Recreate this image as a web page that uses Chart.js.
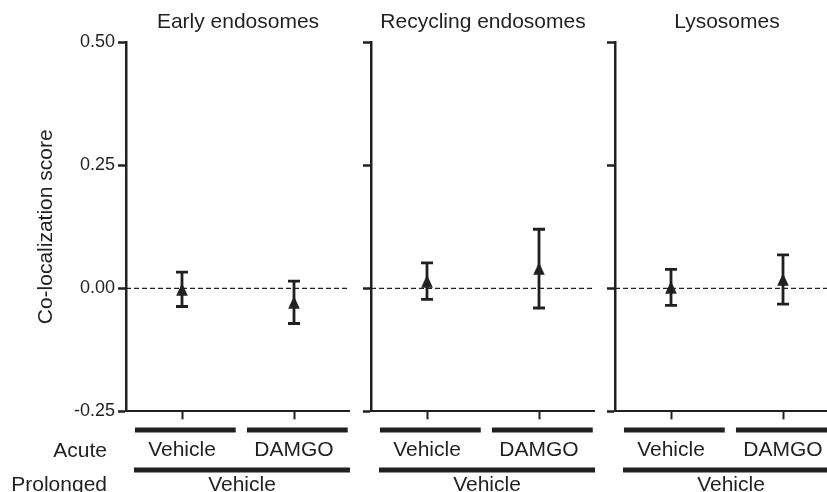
<!DOCTYPE html>
<html>
<head>
<meta charset="utf-8">
<script src="https://cdn.jsdelivr.net/npm/chart.js@4.4.1/dist/chart.umd.min.js"></script>
<style>
  html, body { margin: 0; padding: 0; background: #ffffff; overflow: hidden; width: 827px; height: 492px; }
  .wrap { position: absolute; top: 0; height: 492px; }
  canvas { display: block; }
</style>
</head>
<body>
<div class="wrap" id="w1" style="left:0px;width:350px"><canvas id="c1"></canvas></div>
<div class="wrap" id="w2" style="left:351px;width:244px"><canvas id="c2"></canvas></div>
<div class="wrap" id="w3" style="left:595px;width:244px"><canvas id="c3"></canvas></div>
<script>
// ---------- data ----------
const categories = ['Vehicle', 'DAMGO'];
const panelTitles = ['Early endosomes', 'Recycling endosomes', 'Lysosomes'];
const earlyMean = [-0.002, -0.0285];
const earlyErr = [0.035, 0.043];
const recyclingMean = [0.0145, 0.040];
const recyclingErr = [0.037, 0.080];
const lysosomeMean = [0.002, 0.018];
const lysosomeErr = [0.0366, 0.050];
const yTicks = [-0.25, 0.00, 0.25, 0.50];
const rowLabels = ['Acute', 'Prolonged'];
const prolongedLabel = 'Vehicle';
const yTitle = 'Co-localization score';

// ---------- style ----------
const INK = '#231f20';
const FONT = "'Liberation Sans', Arial, Helvetica, sans-serif";

// triangle marker
function makeTriangle() {
  const c = document.createElement('canvas');
  c.width = 12; c.height = 13;
  const g = c.getContext('2d');
  g.fillStyle = INK;
  g.beginPath();
  g.moveTo(6, 0.3);
  g.lineTo(11.8, 12.7);
  g.lineTo(0.2, 12.7);
  g.closePath();
  g.fill();
  return c;
}
const triangle = makeTriangle();

const panelPlugin = {
  id: 'panelExtras',
  beforeDatasetsDraw(chart, args, opts) {
    const ctx = chart.ctx;
    const x = chart.scales.x, y = chart.scales.y;
    const a = chart.chartArea;
    ctx.save();
    // dashed zero line
    const y0 = y.getPixelForValue(0);
    ctx.strokeStyle = INK;
    ctx.lineWidth = 1.3;
    ctx.setLineDash([5, 3]);
    ctx.beginPath();
    ctx.moveTo(a.left, y0);
    ctx.lineTo(a.right - 2, y0);
    ctx.stroke();
    ctx.setLineDash([]);
    // error bars
    ctx.lineWidth = 2.8;
    opts.means.forEach((m, i) => {
      const cx = x.getPixelForValue(i);
      const top = y.getPixelForValue(m + opts.errs[i]);
      const bot = y.getPixelForValue(m - opts.errs[i]);
      ctx.beginPath();
      ctx.moveTo(cx, top); ctx.lineTo(cx, bot);
      ctx.moveTo(cx - 6, top); ctx.lineTo(cx + 6, top);
      ctx.moveTo(cx - 6, bot); ctx.lineTo(cx + 6, bot);
      ctx.stroke();
    });
    ctx.restore();
  },
  afterDraw(chart, args, opts) {
    const ctx = chart.ctx;
    const x = chart.scales.x;
    const a = chart.chartArea;
    const step = x.getPixelForValue(1) - x.getPixelForValue(0);
    ctx.save();
    ctx.fillStyle = INK;
    // acute bars
    categories.forEach((c, i) => {
      const cx = x.getPixelForValue(i);
      ctx.fillRect(cx - 0.42 * step, 427.5, 0.9 * step, 5);
    });
    // prolonged bar
    const pl = a.left + 8, pr = a.right;
    ctx.fillRect(pl, 467.5, pr - pl, 5);
    ctx.font = '21px ' + FONT;
    ctx.textAlign = 'center';
    ctx.textBaseline = 'middle';
    ctx.fillText(prolongedLabel, (pl + pr) / 2, 485);
    if (opts.rowLabels) {
      ctx.textAlign = 'right';
      ctx.fillText(rowLabels[0], 107, 451);
      ctx.fillText(rowLabels[1], 107, 485);
    }
    ctx.restore();
  }
};

function makeChart(id, title, means, errs, first) {
  return new Chart(document.getElementById(id), {
    type: 'line',
    data: {
      labels: categories,
      datasets: [{
        data: means,
        showLine: false,
        pointStyle: triangle,
        pointRadius: 7,
        pointHoverRadius: 7,
        borderColor: INK,
        backgroundColor: INK
      }]
    },
    plugins: [panelPlugin],
    options: {
      responsive: true,
      maintainAspectRatio: false,
      animation: false,
      events: [],
      layout: { padding: 0, autoPadding: false },
      plugins: {
        legend: { display: false },
        tooltip: { enabled: false },
        title: {
          display: true,
          text: title,
          fullSize: false,
          color: INK,
          font: { family: FONT, size: 21, weight: 'normal', lineHeight: 1.2 },
          padding: { top: 10, bottom: 7.1 }
        },
        panelExtras: { means: means, errs: errs, rowLabels: first }
      },
      scales: {
        x: {
          type: 'category',
          offset: true,
          grid: { display: true, offset: false, drawOnChartArea: false, drawTicks: true, tickLength: 8, tickWidth: 2, tickColor: INK },
          border: { display: true, color: INK, width: 2 },
          ticks: { color: INK, font: { family: FONT, size: 21 }, padding: 18.5, maxRotation: 0, autoSkip: false },
          afterFit(s) { s.height = 80.7; s.paddingLeft = 0; s.paddingRight = 0; }
        },
        y: {
          min: -0.25,
          max: 0.5,
          afterBuildTicks(s) { s.ticks = yTicks.map(v => ({ value: v })); },
          grid: { display: true, drawOnChartArea: false, drawTicks: true, tickLength: 8, tickWidth: 2.5, tickColor: INK },
          border: { display: true, color: INK, width: 2.5 },
          ticks: {
            display: first,
            color: INK,
            padding: 3,
            font: { family: FONT, size: 18 },
            callback: v => Number(v).toFixed(2)
          },
          title: {
            display: first,
            text: yTitle,
            color: INK,
            font: { family: FONT, size: 21 },
            padding: { top: 34, bottom: 0 }
          },
          afterFit(s) { s.width = first ? 126 : 20; }
        }
      }
    }
  });
}

makeChart('c1', panelTitles[0], earlyMean, earlyErr, true);
makeChart('c2', panelTitles[1], recyclingMean, recyclingErr, false);
makeChart('c3', panelTitles[2], lysosomeMean, lysosomeErr, false);
</script>
</body>
</html>
